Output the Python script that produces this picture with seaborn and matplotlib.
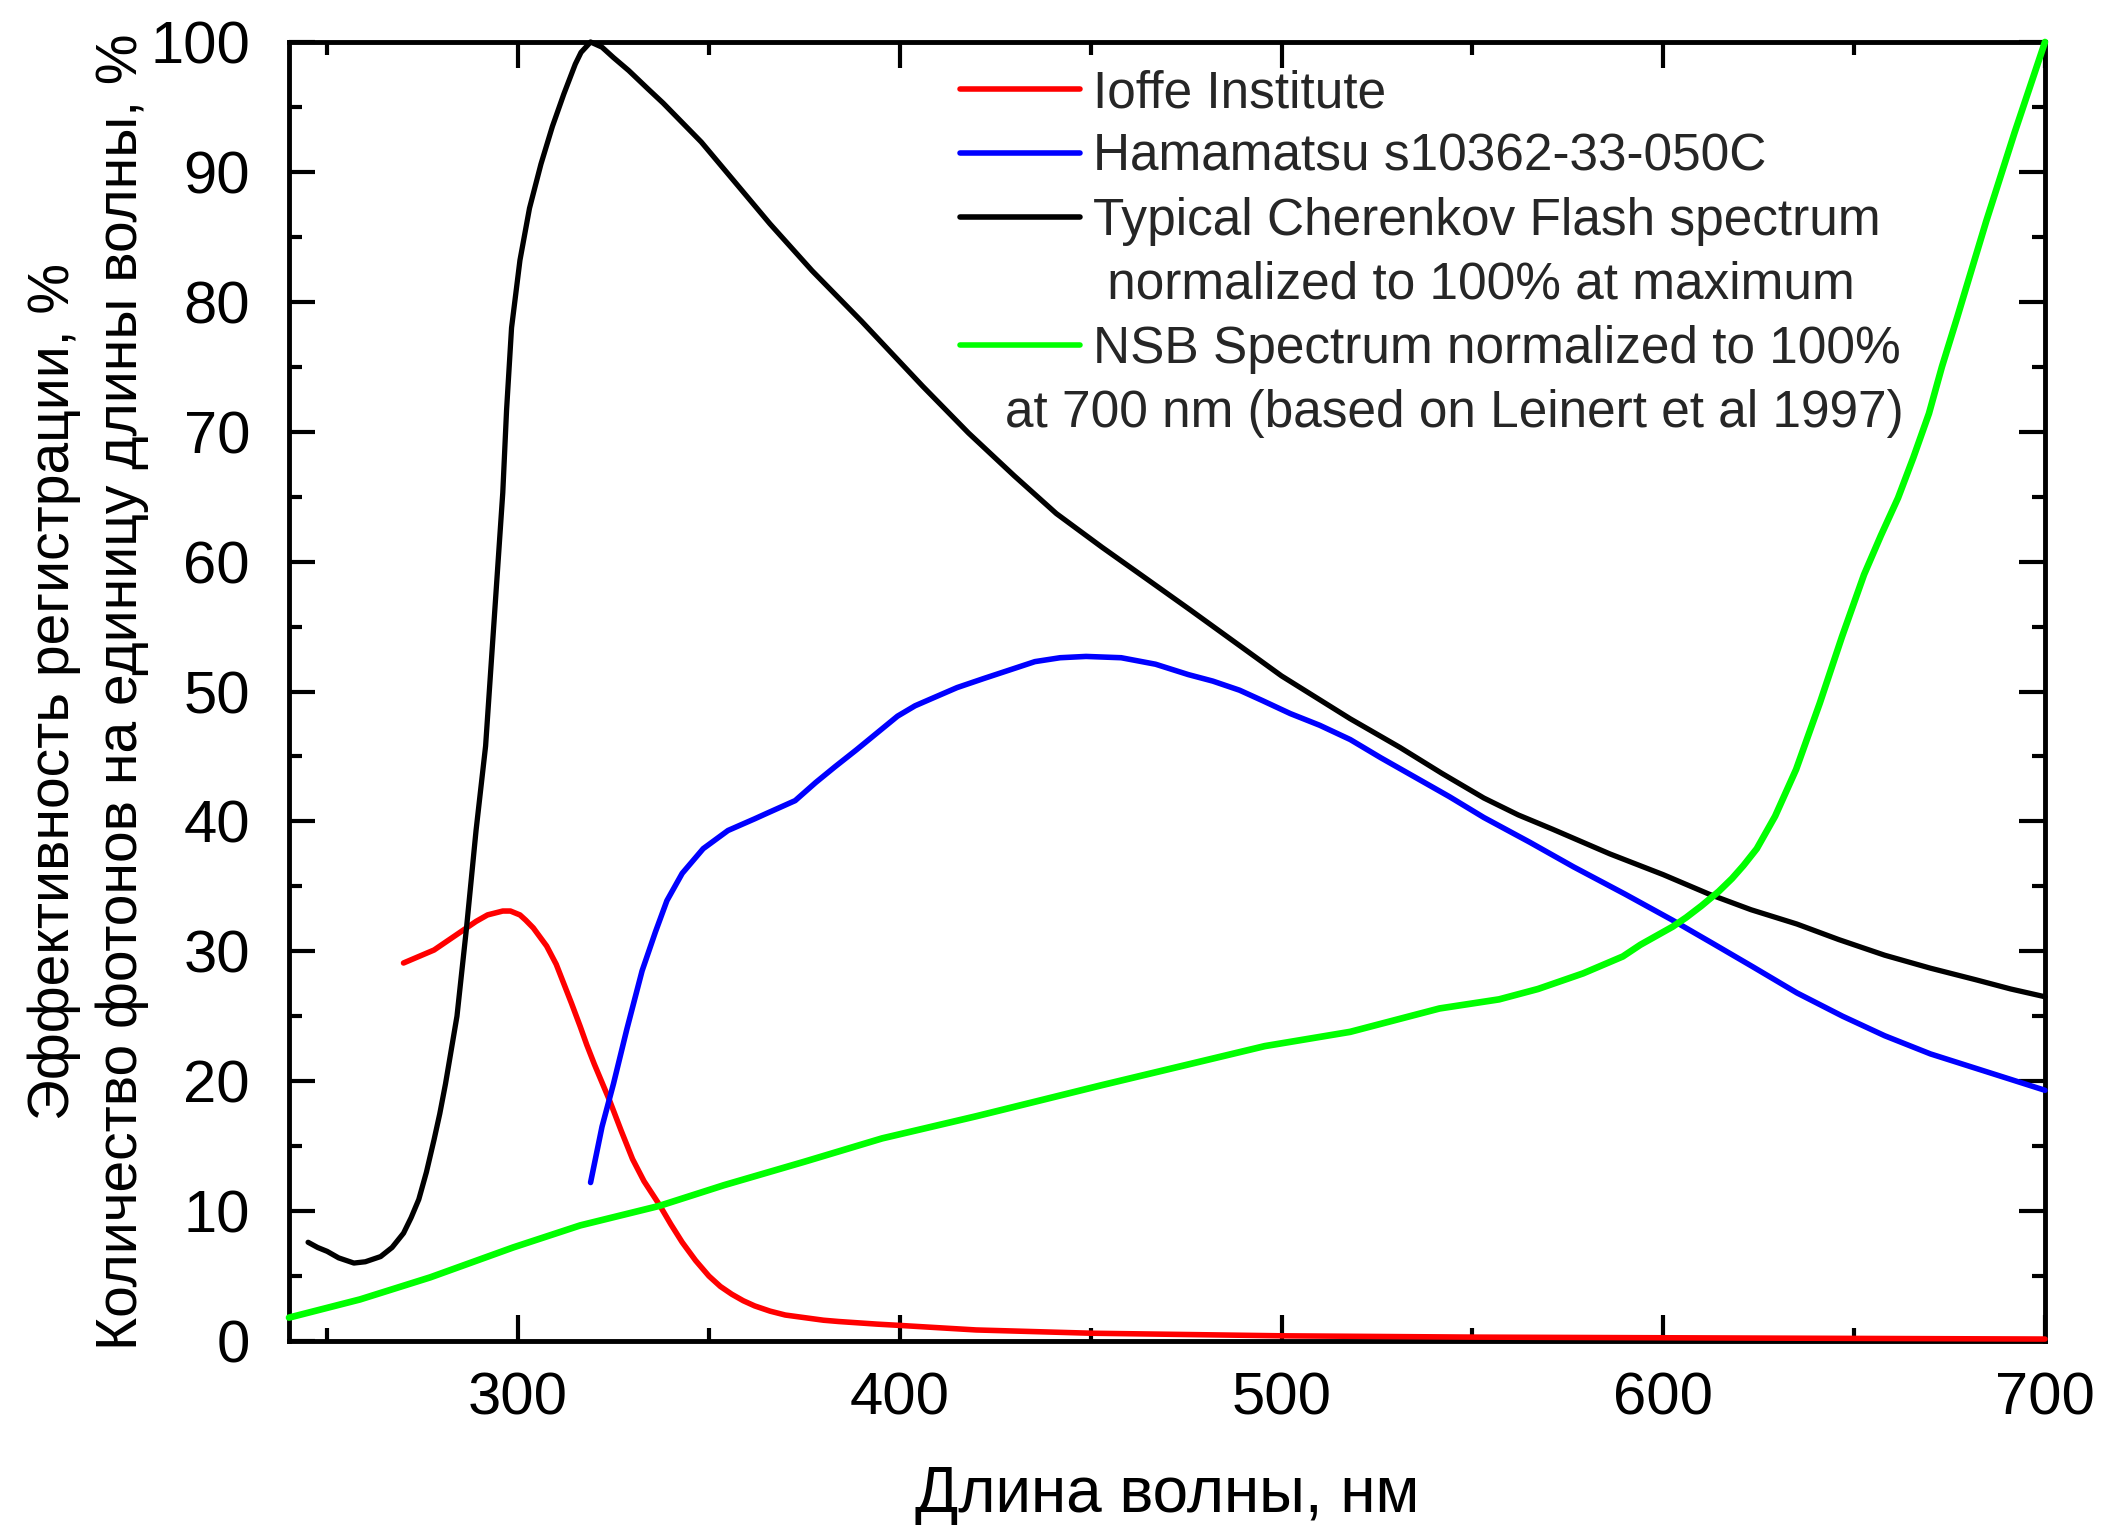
import numpy as np
import pandas as pd
import matplotlib
matplotlib.use("Agg")
import matplotlib.pyplot as plt
import matplotlib.transforms as mtransforms
from matplotlib.lines import Line2D
from matplotlib.ticker import MultipleLocator
import seaborn as sns

# ---------------- data ----------------
cher_nm = [245, 247.5, 250, 253, 257, 260, 264, 267, 270, 272, 274, 276, 278, 279.5,
           281, 282.5, 284, 286.5, 289, 291.5, 293, 294.5, 296, 297, 298.3, 300.5, 303,
           306, 309, 312, 315, 316.5, 319, 322, 325, 329, 334, 338, 343, 348, 356, 366,
           377, 390, 406, 418, 430, 441, 453, 465, 476, 500, 518, 531, 542, 553, 562,
           571, 586, 600, 612, 623, 635, 646, 658, 670, 682, 691, 700]
cher_val = [7.6, 7.2, 6.9, 6.4, 6.0, 6.1, 6.5, 7.2, 8.3, 9.5, 10.9, 13.0, 15.5, 17.5,
            19.8, 22.4, 25.0, 31.8, 39.3, 45.8, 52.3, 58.8, 65.3, 71.7, 78.0, 83.2, 87.2,
            90.6, 93.5, 96.0, 98.3, 99.2, 100.0, 99.6, 98.8, 97.8, 96.4, 95.3, 93.8, 92.3,
            89.5, 86.0, 82.4, 78.5, 73.5, 69.9, 66.6, 63.7, 61.1, 58.6, 56.3, 51.2, 47.9,
            45.7, 43.7, 41.8, 40.5, 39.4, 37.5, 35.9, 34.4, 33.2, 32.1, 30.9, 29.7, 28.7,
            27.8, 27.1, 26.5]

ham_nm = [319, 322, 325, 328.5, 332.5, 336, 339, 343, 348.5, 355, 362, 365, 372.6, 378,
          383, 388.6, 394, 399.4, 404, 408.7, 415, 422, 435.4, 442, 448.8, 458, 467,
          475.6, 482, 489, 495, 502.3, 510, 518, 526, 535, 544, 553, 565, 576.5, 590,
          602.4, 613, 623.5, 635, 647, 658, 670, 685, 700]
ham_val = [12.2, 16.5, 19.8, 24.0, 28.5, 31.5, 33.9, 36.0, 37.9, 39.3, 40.2, 40.6, 41.6,
           43.0, 44.2, 45.5, 46.8, 48.1, 48.9, 49.5, 50.3, 51.0, 52.3, 52.6, 52.7, 52.6,
           52.1, 51.3, 50.8, 50.1, 49.3, 48.3, 47.4, 46.3, 44.9, 43.4, 41.9, 40.3, 38.4,
           36.5, 34.4, 32.4, 30.6, 28.8, 26.8, 25.0, 23.5, 22.1, 20.7, 19.3]

ioffe_nm = [270, 278, 282, 286.5, 289, 292, 296, 298, 300.5, 302, 304, 307.5, 310, 312,
            314, 316.3, 318, 320, 322, 324, 327, 330, 333, 337, 340, 343, 346.5, 350, 353,
            356, 359, 362, 366, 370, 375, 380, 384, 389, 394, 400, 420, 450, 500, 550,
            600, 650, 700]
ioffe_val = [29.1, 30.1, 30.9, 31.8, 32.3, 32.8, 33.1, 33.1, 32.8, 32.4, 31.8, 30.4, 29.0,
             27.5, 26.0, 24.2, 22.8, 21.3, 19.9, 18.5, 16.2, 14.0, 12.3, 10.5, 9.0, 7.6,
             6.2, 5.0, 4.2, 3.6, 3.1, 2.7, 2.3, 2.0, 1.8, 1.6, 1.5, 1.4, 1.3, 1.2, 0.85,
             0.6, 0.4, 0.3, 0.25, 0.2, 0.15]

nsb_nm = [240, 258.6, 277, 298.7, 316.3, 337, 354, 375, 395.4, 420, 453, 495.6, 518,
          541.4, 557, 567.2, 579, 589.4, 594, 602.5, 606, 610, 614.5, 618, 621, 624.5,
          629.3, 634.8, 641, 646.8, 652.6, 657, 661.5, 665.5, 669.6, 673, 677, 684.6,
          692, 700]
nsb_val = [1.8, 3.2, 4.9, 7.2, 8.9, 10.4, 12.0, 13.8, 15.6, 17.3, 19.7, 22.7, 23.8,
           25.6, 26.3, 27.1, 28.3, 29.6, 30.5, 31.9, 32.6, 33.5, 34.6, 35.6, 36.6, 37.9,
           40.4, 44.0, 49.1, 54.2, 59.0, 62.0, 64.9, 68.0, 71.4, 75.0, 78.8, 86.2,
           93.0, 100.0]

labels = ["Ioffe Institute",
          "Hamamatsu s10362-33-050C",
          "Typical Cherenkov Flash spectrum",
          " normalized to 100% at maximum",
          "NSB Spectrum normalized to 100%",
          "at 700 nm (based on Leinert et al 1997)"]
xlabel = "Длина волны, нм"
ylabel = "Эффективность регистрации, %\nКоличество фотонов на единицу длины волны, %"
xticks = [300, 400, 500, 600, 700]
yticks = [0, 10, 20, 30, 40, 50, 60, 70, 80, 90, 100]

# ---------------- style ----------------
sns.set_theme(style="ticks")
plt.rcParams["font.family"] = ["Liberation Sans", "DejaVu Sans"]

W, H, DPI = 2106, 1527, 100
fig = plt.figure(figsize=(W / DPI, H / DPI), dpi=DPI, facecolor="white")
L, R, T, B = 289, 2045, 42, 1341
ax = fig.add_axes([L / W, 1 - B / H, (R - L) / W, (B - T) / H])
ax.set_facecolor("white")

series = [
    (ioffe_nm, ioffe_val, "#ff0000", 4.0),
    (ham_nm, ham_val, "#0000ff", 4.0),
    (cher_nm, cher_val, "#000000", 3.8),
    (nsb_nm, nsb_val, "#00ff00", 4.8),
]
for xs, ys, col, lw in series:
    df = pd.DataFrame({"nm": xs, "val": ys})
    sns.lineplot(data=df, x="nm", y="val", color=col, linewidth=lw, ax=ax,
                 sort=False, estimator=None, legend=False, clip_on=False, zorder=3)

ax.set_xlim(240, 700)
ax.set_ylim(0, 100)
ax.set_xticks(xticks)
ax.set_yticks(yticks)
ax.xaxis.set_minor_locator(MultipleLocator(50))
ax.yaxis.set_minor_locator(MultipleLocator(5))

for s in ax.spines.values():
    s.set_visible(True)
    s.set_linewidth(3.5)
    s.set_color("black")

ax.tick_params(which="both", direction="in", top=True, right=True,
               color="black", width=3)
ax.tick_params(which="major", length=18.5, labelsize=43, labelcolor="black")
ax.tick_params(axis="x", which="major", pad=22)
ax.tick_params(axis="y", which="major", pad=28)
ax.tick_params(which="minor", length=9.5)

ax.set_xlabel(xlabel, fontsize=46, color="black", labelpad=28)
ax.set_ylabel(ylabel, fontsize=41, color="black", labelpad=1, linespacing=1.33)

# ---------------- legend ----------------
cols = ["#ff0000", "#0000ff", "#000000", None, "#00ff00", None]
handles = []
for c in cols:
    if c is None:
        handles.append(Line2D([], [], color="white", alpha=0.0, linewidth=4))
    else:
        handles.append(Line2D([], [], color=c, linewidth=4))
leg = ax.legend(handles, labels, loc="upper left",
                bbox_to_anchor=((960 - L) / (R - L), (B - 69) / (B - T)),
                frameon=False, fontsize=37, handlelength=2.33, handletextpad=0.25,
                labelspacing=0.29, borderpad=0, borderaxespad=0)
last = leg.get_texts()[5]
last.set_transform(last.get_transform() +
                   mtransforms.ScaledTranslation(-88 / DPI, 0, fig.dpi_scale_trans))

fig.savefig("out.png", dpi=DPI, facecolor="white")
